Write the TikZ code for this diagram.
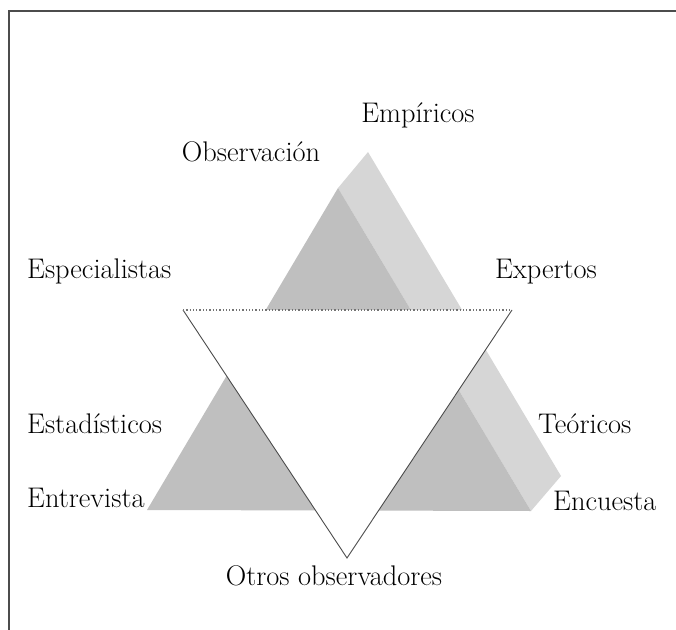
\documentclass[tikz,border=0pt]{standalone}
\usetikzlibrary{positioning}

\begin{document}
\begin{tikzpicture}[x=1bp, y=-1bp,
 lbl/.style={font=\fontsize{28.5}{32}\selectfont, inner sep=0pt},
 front/.style={fill=black!25},
 side/.style={fill=black!16},
 edge/.style={draw=black!70, line width=0.9bp}]
 \useasboundingbox (0,0) rectangle (676,630);
 \draw[line width=2.4bp, black!70] (9,630) -- (9,11) -- (676,11);
 % pyramid
 \coordinate (fl) at (147,510);
 \coordinate (fr) at (531,511);
 \coordinate (ft) at (338,188);
 \coordinate (bt) at (368,152);
 \coordinate (br) at (561,476);
 \path[side] (ft) -- (bt) -- (br) -- (fr) -- cycle;
 \path[front] (fl) -- (ft) -- (fr) -- cycle;
 % inverted triangle
 \coordinate (il) at (183,310);
 \coordinate (ir) at (512,310);
 \coordinate (ib) at (347,558);
 \fill[white] (il) -- (ir) -- (ib) -- cycle;
 \draw[edge] (il) -- (ib) -- (ir);
 \draw[black!55, dotted, line width=1.3bp] (il) -- (ir);
 % labels
 \node[lbl, anchor=base] (emp) at (418,123) {Empíricos};
 \node[lbl, anchor=base] (obs) at (251,162) {Observación};
 \node[lbl, anchor=base west] (esp) at (27,278) {Especialistas};
 \node[lbl, anchor=base west] (exp) at (495,278) {Expertos};
 \node[lbl, anchor=base west] (est) at (27,433) {Estadísticos};
 \node[lbl, anchor=base west] (teo) at (538,433) {Teóricos};
 \node[lbl, anchor=base west] (ent) at (27,507) {Entrevista};
 \node[lbl, anchor=base west] (enc) at (553,510) {Encuesta};
 \node[lbl, anchor=base] (otr) at (334,585) {Otros observadores};
\end{tikzpicture}
\end{document}
